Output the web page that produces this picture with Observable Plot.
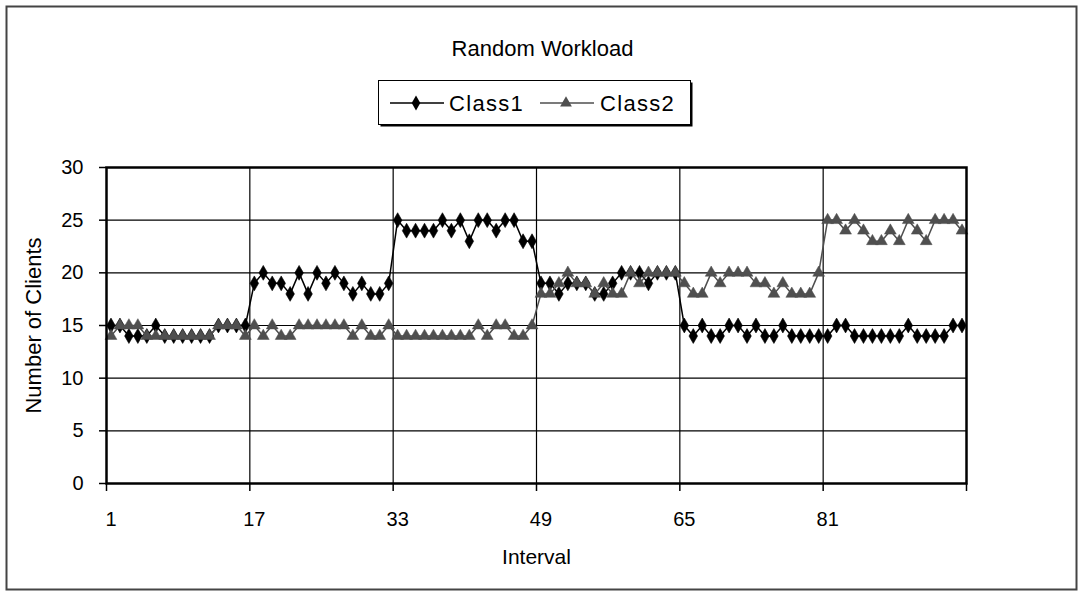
<!DOCTYPE html>
<html><head><meta charset="utf-8">
<script src="https://cdn.jsdelivr.net/npm/d3@7"></script>
<script src="https://cdn.jsdelivr.net/npm/@observablehq/plot@0.6"></script>
<style>
body{margin:0;background:#fff;}
#chart{width:1080px;height:591px;}
</style></head><body><div id="chart"></div>
<script>
const intervals = d3.range(1, 97);
const class1 = [
  15,15,14,14,14,15,14,14,14,14,14,14,15,15,15,15,
  19,20,19,19,18,20,18,20,19,20,19,18,19,18,18,19,
  25,24,24,24,24,25,24,25,23,25,25,24,25,25,23,23,
  19,19,18,19,19,19,18,18,19,20,20,20,19,20,20,20,
  15,14,15,14,14,15,15,14,15,14,14,15,14,14,14,14,
  14,15,15,14,14,14,14,14,14,15,14,14,14,14,15,15
];
const class2 = [
  14,15,15,15,14,14,14,14,14,14,14,14,15,15,15,14,
  15,14,15,14,14,15,15,15,15,15,15,14,15,14,14,15,
  14,14,14,14,14,14,14,14,14,15,14,15,15,14,14,15,
  18,18,19,20,19,19,18,19,18,18,20,19,20,20,20,20,
  19,18,18,20,19,20,20,20,19,19,18,19,18,18,18,20,
  25,25,24,25,24,23,23,24,23,25,24,23,25,25,25,24
];
const seriesNames = ["Class1", "Class2"];
const yTicks = [0, 5, 10, 15, 20, 25, 30];
const yGrid = [5, 10, 15, 20, 25];
const xTickLabels = [1, 17, 33, 49, 65, 81];
const xBoundaries = [0.5, 16.5, 32.5, 48.5, 64.5, 80.5, 96.5];
const xGrid = [16.5, 32.5, 48.5, 64.5, 80.5];
const titleText = "Random Workload";
const xTitle = "Interval";
const yTitle = "Number of Clients";

const rows = intervals.map((t, i) => ({interval: t, class1: class1[i], class2: class2[i]}));
const FONT = "'Liberation Sans', Arial, sans-serif";
const GRAY = "#4f4f4f";

const chart = Plot.plot({
  width: 1080,
  height: 591,
  marginLeft: 106,
  marginRight: 114,
  marginTop: 167,
  marginBottom: 108,
  style: {fontFamily: FONT, fontSize: "20px", background: "white", color: "black"},
  x: {domain: [0.5, 96.5], axis: null},
  y: {domain: [0, 30], axis: null},
  marks: [
    Plot.ruleY(yGrid, {stroke: "black", strokeWidth: 1.2}),
    Plot.ruleX(xGrid, {stroke: "black", strokeWidth: 1.2}),
    Plot.line(rows, {x: "interval", y: "class1", stroke: "black", strokeWidth: 1.5}),
    Plot.dot(rows, {x: "interval", y: "class1", symbol: "diamond", r: 4.5, fill: "black", stroke: "black", strokeWidth: 0.6}),
    Plot.line(rows, {x: "interval", y: "class2", stroke: GRAY, strokeWidth: 1.5}),
    Plot.dot(rows, {x: "interval", y: "class2", symbol: "triangle", r: 4.4, fill: GRAY, stroke: GRAY, strokeWidth: 0.5}),
    Plot.frame({stroke: "black", strokeWidth: 2.5}),
    Plot.axisY(yTicks, {tickSize: 7, tickPadding: 16, fontSize: 20, label: null, stroke: "black", strokeWidth: 1.5}),
    Plot.axisX(xBoundaries, {tickSize: 8, tickFormat: () => "", label: null, stroke: "black", strokeWidth: 1.5}),
    Plot.axisX(xTickLabels, {tickSize: 0, tickPadding: 28, fontSize: 20, label: null}),
    Plot.text([xTitle], {text: d => d, frameAnchor: "bottom", dy: 80, fontSize: 21, textAnchor: "middle", letterSpacing: "1.2px"}),
    Plot.text([yTitle], {text: d => d, frameAnchor: "left", dx: -73, rotate: -90, fontSize: 22, textAnchor: "middle", letterSpacing: "1.2px"}),
    Plot.text([titleText], {text: d => d, frameAnchor: "top", dy: -127, dx: 6, fontSize: 22, textAnchor: "middle", letterSpacing: "2px"})
  ]
});
document.getElementById("chart").appendChild(chart);

// outer border and legend
const svg = d3.select(chart);
svg.insert("rect", ":first-child")
  .attr("x", 6.5).attr("y", 6.5).attr("width", 1070).attr("height", 583)
  .attr("fill", "white").attr("stroke", "#444").attr("stroke-width", 2);

const lg = svg.append("g").attr("text-anchor", "start");
lg.append("rect").attr("x", 380.5).attr("y", 82.5).attr("width", 312).attr("height", 44).attr("fill", "black");
lg.append("rect").attr("x", 378.5).attr("y", 80.5).attr("width", 312).attr("height", 44)
  .attr("fill", "white").attr("stroke", "black").attr("stroke-width", 1);
const items = [
  {name: seriesNames[0], x0: 390, color: "black", sym: d3.symbolDiamond, size: 64, tx: 449},
  {name: seriesNames[1], x0: 540, color: GRAY, sym: d3.symbolTriangle, size: 60, tx: 600}
];
for (const it of items) {
  lg.append("line").attr("x1", it.x0).attr("x2", it.x0 + 54).attr("y1", 103).attr("y2", 103)
    .attr("stroke", it.color).attr("stroke-width", 1.5);
  lg.append("path").attr("d", d3.symbol(it.sym, it.size)())
    .attr("transform", `translate(${it.x0 + 26},103)`).attr("fill", it.color);
  lg.append("text").attr("x", it.tx).attr("y", 103).attr("dy", "0.35em")
    .attr("text-anchor", "start").attr("letter-spacing", "1.3px")
    .attr("font-family", FONT).attr("font-size", 22).attr("fill", "black").text(it.name);
}
</script>
</body></html>
